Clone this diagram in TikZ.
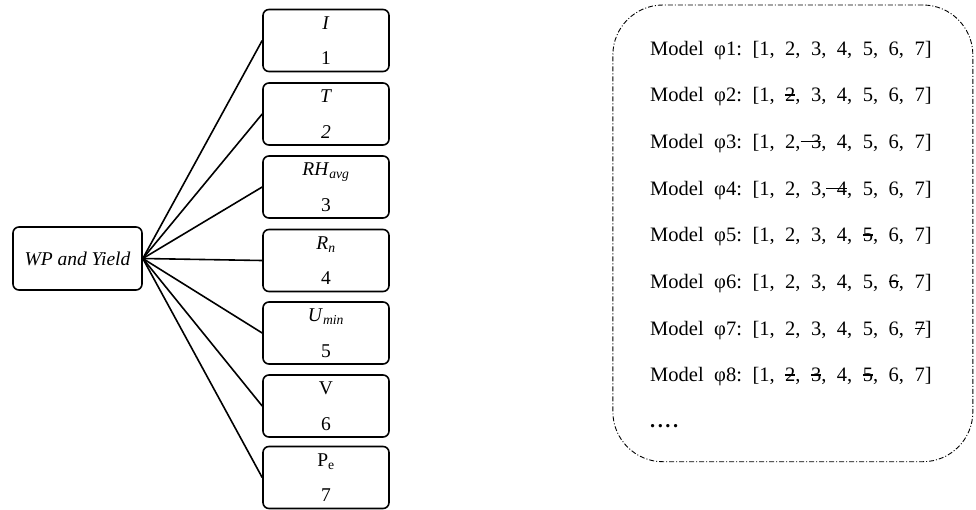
\documentclass[tikz,border=0pt]{standalone}
\usepackage{fontspec}
\setmainfont{Liberation Serif}
\usetikzlibrary{calc}
\newcommand\mfont{\fontsize{20.5}{24}\selectfont\frenchspacing\spaceskip 10.5pt\relax}
\newcommand\strk[1]{\sbox0{#1}\rlap{\rule[0.3em]{\wd0}{0.065em}}\usebox0}
\newcommand\strkl[1]{\sbox0{\hskip 10.5pt #1}\rlap{\rule[0.3em]{\wd0}{0.065em}}\usebox0}
\begin{document}
\begin{tikzpicture}[x=1pt,y=-1pt,
  vbox/.style={draw, line width=1.6pt, rounded corners=6pt, minimum width=126pt, minimum height=62pt, inner sep=0pt},
  vtxt/.style={anchor=base, inner sep=0pt, font=\fontsize{19.5}{22}\selectfont},
  link/.style={line width=1.6pt},
  frame/.style={draw, line width=0.9pt, dash pattern=on 5pt off 2pt on 1pt off 2pt, rounded corners=50pt, minimum width=360pt, minimum height=456.7pt, inner sep=0pt},
  model/.style={anchor=base west, inner sep=0pt, font=\mfont}]
\useasboundingbox (0,0) rectangle (976,509);
% left tree
\node[vbox, minimum width=129pt, minimum height=63pt, font=\fontsize{19.5}{22}\selectfont] (wp) at (77.5,258.5) {\textit{WP and Yield}};
\foreach \i/\c/\a/\b in {1/40.5/\textit{I}/1, 2/114/\textit{T}/\textit{2}, 3/187/\textit{RH}\textsubscript{\textit{avg}}/3, 4/260.5/\textit{R}\textsubscript{\textit{n}}/4, 5/333/\textit{U}\textsubscript{\textit{min}}/5, 6/406/V/6, 7/477.5/P\textsubscript{e}/7}{
  \node[vbox] (b\i) at (326,\c) {};
  \node[vtxt] (t\i) at ($(b\i.north)+(0,20.5)$) {\a};
  \node[vtxt] (n\i) at ($(b\i.north)+(0,56)$) {\b};
  \draw[link] (wp.east) -- (b\i.west);
}
% right frame
\node[frame] (frame) at (792.85,233.35) {};
\node[model] (m1) at (650,55) {Model φ1: [1, 2, 3, 4, 5, 6, 7]};
\node[model] (m2) at (650,101.7) {Model φ2: [1, \strk{2}, 3, 4, 5, 6, 7]};
\node[model] (m3) at (650,148.4) {Model φ3: [1, 2,\strkl{3}, 4, 5, 6, 7]};
\node[model] (m4) at (650,195.1) {Model φ4: [1, 2, 3,\strkl{4}, 5, 6, 7]};
\node[model] (m5) at (650,241.8) {Model φ5: [1, 2, 3, 4, \strk{5}, 6, 7]};
\node[model] (m6) at (650,288.5) {Model φ6: [1, 2, 3, 4, 5, \strk{6}, 7]};
\node[model] (m7) at (650,335.2) {Model φ7: [1, 2, 3, 4, 5, 6, \strk{7}]};
\node[model] (m8) at (650,381.9) {Model φ8: [1, \strk{2}, \strk{3}, 4, \strk{5}, 6, 7]};
\node[model] (dots) at (650,427.5) {\textbf{.\kern2.5pt.\kern2.5pt.\kern2.5pt.}};
\end{tikzpicture}
\end{document}
